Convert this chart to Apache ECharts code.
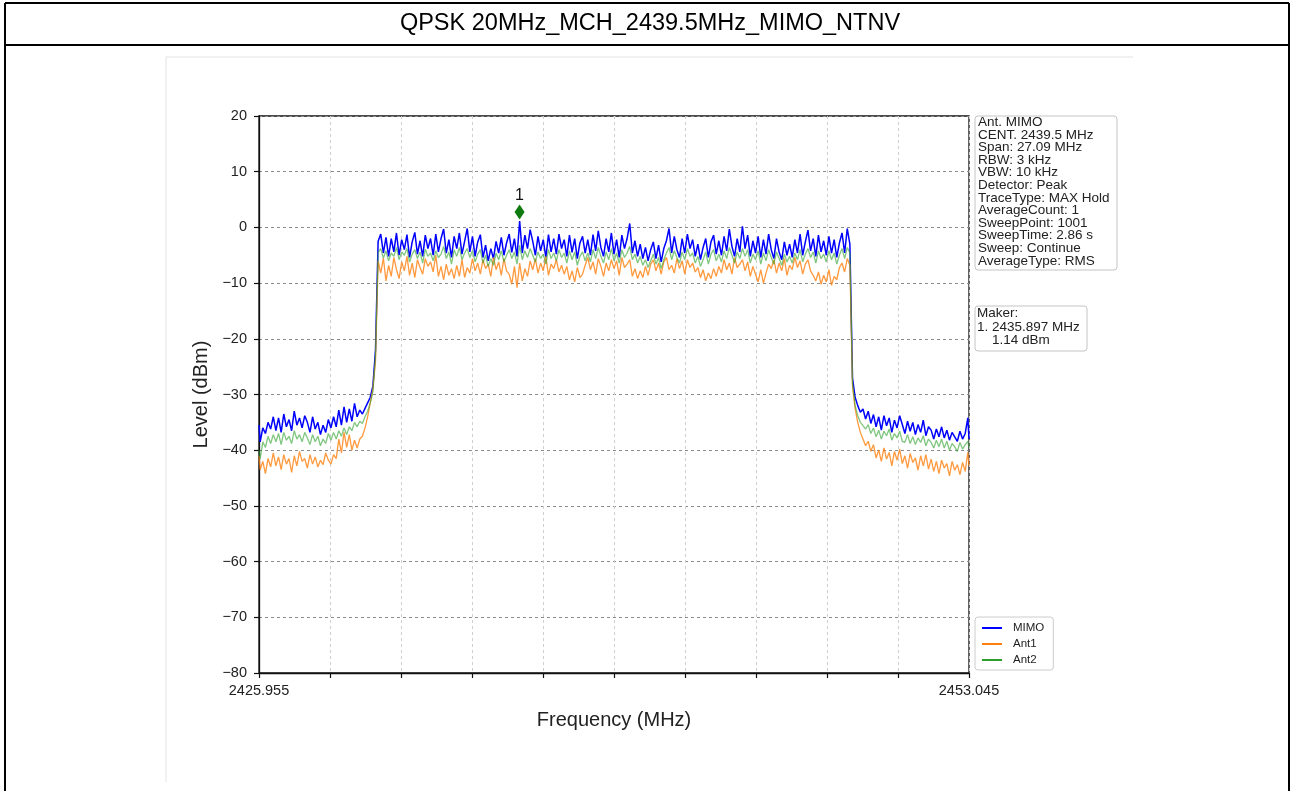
<!DOCTYPE html>
<html><head><meta charset="utf-8">
<script src="https://cdn.jsdelivr.net/npm/echarts@6/dist/echarts.min.js"></script>
<style>html,body{margin:0;padding:0;background:#fff;}#c{width:1292px;height:791px;}</style>
</head><body><div id="c"></div>
<script>
// ---- data ----
const freqs = [2425.955,
2426.0,2426.1,2426.2,2426.3,2426.4,2426.5,2426.6,2426.7,2426.8,2426.9,
2427.0,2427.1,2427.2,2427.3,2427.4,2427.5,2427.6,2427.7,2427.8,2427.9,
2428.0,2428.1,2428.2,2428.3,2428.4,2428.5,2428.6,2428.7,2428.8,2428.9,
2429.0,2429.1,2429.2,2429.3,2429.4,2429.5,2429.6,2429.7,2429.8,2429.9,
2430.0,2430.1,2430.2,2430.3,2430.4,2430.5,2430.6,2430.7,2430.8,2430.9,
2431.0,2431.1,2431.2,2431.3,2431.4,2431.5,2431.6,2431.7,2431.8,2431.9,
2432.0,2432.1,2432.2,2432.3,2432.4,2432.5,2432.6,2432.7,2432.8,2432.9,
2433.0,2433.1,2433.2,2433.3,2433.4,2433.5,2433.6,2433.7,2433.8,2433.9,
2434.0,2434.1,2434.2,2434.3,2434.4,2434.5,2434.6,2434.7,2434.8,2434.9,
2435.0,2435.1,2435.2,2435.3,2435.4,2435.5,2435.6,2435.7,2435.8,2435.9,
2436.0,2436.1,2436.2,2436.3,2436.4,2436.5,2436.6,2436.7,2436.8,2436.9,
2437.0,2437.1,2437.2,2437.3,2437.4,2437.5,2437.6,2437.7,2437.8,2437.9,
2438.0,2438.1,2438.2,2438.3,2438.4,2438.5,2438.6,2438.7,2438.8,2438.9,
2439.0,2439.1,2439.2,2439.3,2439.4,2439.5,2439.6,2439.7,2439.8,2439.9,
2440.0,2440.1,2440.2,2440.3,2440.4,2440.5,2440.6,2440.7,2440.8,2440.9,
2441.0,2441.1,2441.2,2441.3,2441.4,2441.5,2441.6,2441.7,2441.8,2441.9,
2442.0,2442.1,2442.2,2442.3,2442.4,2442.5,2442.6,2442.7,2442.8,2442.9,
2443.0,2443.1,2443.2,2443.3,2443.4,2443.5,2443.6,2443.7,2443.8,2443.9,
2444.0,2444.1,2444.2,2444.3,2444.4,2444.5,2444.6,2444.7,2444.8,2444.9,
2445.0,2445.1,2445.2,2445.3,2445.4,2445.5,2445.6,2445.7,2445.8,2445.9,
2446.0,2446.1,2446.2,2446.3,2446.4,2446.5,2446.6,2446.7,2446.8,2446.9,
2447.0,2447.1,2447.2,2447.3,2447.4,2447.5,2447.6,2447.7,2447.8,2447.9,
2448.0,2448.1,2448.2,2448.3,2448.4,2448.5,2448.6,2448.7,2448.8,2448.9,
2449.0,2449.1,2449.2,2449.3,2449.4,2449.5,2449.6,2449.7,2449.8,2449.9,
2450.0,2450.1,2450.2,2450.3,2450.4,2450.5,2450.6,2450.7,2450.8,2450.9,
2451.0,2451.1,2451.2,2451.3,2451.4,2451.5,2451.6,2451.7,2451.8,2451.9,
2452.0,2452.1,2452.2,2452.3,2452.4,2452.5,2452.6,2452.7,2452.8,2452.9,
2453.0,2453.045];

// MIMO trace (dBm)
const mimo = [
-35.5,-38.5,-36.0,-37.0,-35.0,-36.2,-34.0,-36.5,-34.2,-36.8,
-33.5,-35.8,-34.5,-36.5,-33.0,-35.5,-34.2,-36.0,-33.8,-35.0,
-36.8,-34.0,-36.2,-35.0,-37.2,-35.5,-36.8,-34.5,-36.0,-34.0,
-35.8,-32.8,-35.5,-32.2,-35.0,-32.6,-34.8,-31.6,-34.0,-32.8,
-33.5,-32.5,-31.5,-30.5,-28.5,-22.0,
-2.5,-1.2,-4.6,-1.8,-5.2,-2.0,-4.4,-1.0,-5.0,-2.2,
-4.0,-1.3,-5.4,-2.6,-0.9,-4.8,-2.4,-5.2,-1.4,-3.8,
-2.0,-5.0,-1.2,-4.4,-2.0,-0.3,-4.6,-2.2,-5.4,-1.6,
-3.8,-1.0,-4.8,-2.5,-0.2,-4.4,-1.6,-5.2,-2.6,-1.3,
-5.4,-3.2,-6.0,-3.8,-5.6,-2.5,-4.6,-1.8,-5.0,-2.8,
-1.2,-4.5,-2.0,-5.2,1.14,-4.6,-1.4,-3.8,-0.4,-2.5,
-5.0,-1.6,-4.2,-2.2,-5.4,-1.3,-4.4,-2.0,-4.8,-1.2,
-3.8,-2.2,-5.2,-1.4,-4.5,-2.0,-5.6,-2.8,-1.6,-4.6,
-2.2,-5.0,-1.3,-4.2,-0.6,-3.6,-5.2,-2.0,-4.4,-1.0,
-4.8,-2.2,-5.4,-1.4,-3.8,-2.0,0.7,-4.6,-2.4,-5.2,
-3.0,-5.6,-3.6,-6.0,-4.0,-2.6,-5.6,-3.2,-6.2,-3.8,
-2.4,-0.2,-4.6,-1.6,-4.0,-5.4,-2.0,-4.6,-1.2,-3.8,
-2.2,-5.2,-3.0,-5.8,-3.6,-2.0,-5.4,-2.6,-1.4,-4.8,
-2.4,-5.0,-1.6,-4.2,-0.3,-3.4,-5.2,-2.0,-4.4,0.2,
-3.8,-1.4,-5.2,-2.4,-4.6,-1.6,-5.4,-2.2,-4.8,-1.2,
-4.0,-5.6,-2.0,-4.4,-5.8,-2.6,-5.0,-3.0,-5.4,-2.2,
-4.6,-1.2,-5.0,-2.6,-0.5,-4.2,-2.0,-5.2,-1.4,-4.4,
-2.4,-5.0,-1.6,-4.6,-2.2,-5.4,-2.8,-1.0,-4.6,-0.2,
-3.0,
-27.0,-30.5,-32.0,-33.2,-32.6,-34.4,-33.0,-35.2,-33.6,-35.8,
-34.0,-36.4,-33.8,-35.6,-34.2,-36.8,-34.6,-36.0,-33.8,-35.4,
-37.0,-34.8,-36.6,-35.0,-37.2,-35.4,-36.8,-34.6,-37.4,-35.8,
-36.4,-38.0,-36.2,-37.6,-35.8,-37.8,-36.4,-38.2,-36.8,-37.6,
-38.4,-36.6,-38.0,-37.0,-34.2,-38.0];

// Ant1 trace (dBm)
const ant1 = [
-41.0,-43.5,-42.0,-44.2,-41.5,-43.0,-40.5,-42.8,-41.2,-43.5,
-40.8,-42.5,-41.5,-44.0,-41.0,-42.8,-40.2,-42.0,-41.5,-43.2,
-40.8,-42.5,-41.2,-43.0,-41.8,-42.6,-40.5,-41.8,-42.5,-40.8,
-41.5,-38.0,-40.5,-36.8,-39.5,-37.2,-40.0,-38.2,-39.6,-38.0,
-37.5,-36.0,-34.0,-31.5,-29.0,-24.0,
-6.0,-8.2,-5.5,-9.6,-6.8,-8.8,-5.4,-7.6,-9.2,-6.2,
-7.8,-5.2,-8.6,-6.4,-9.0,-5.8,-7.2,-8.4,-5.6,-7.0,
-6.2,-8.0,-5.0,-8.8,-7.0,-9.4,-6.6,-8.6,-7.4,-9.2,
-6.8,-8.8,-5.8,-9.0,-7.2,-8.2,-5.6,-7.8,-6.4,-8.4,
-5.8,-7.4,-6.6,-8.8,-5.4,-7.6,-6.2,-8.6,-5.6,-7.8,
-8.4,-10.2,-7.0,-10.8,-6.4,-9.6,-7.4,-8.8,-6.0,-7.6,
-5.6,-8.2,-6.4,-7.8,-5.2,-8.6,-6.6,-7.4,-5.8,-8.0,
-6.8,-8.4,-7.0,-9.4,-7.8,-9.8,-7.2,-9.0,-8.4,-6.8,
-5.4,-7.6,-6.2,-8.4,-5.6,-7.0,-8.8,-6.4,-7.8,-5.8,
-7.4,-6.0,-8.6,-5.4,-7.2,-6.6,-5.8,-8.8,-7.4,-9.2,
-7.8,-9.0,-7.0,-8.6,-6.6,-5.8,-7.8,-6.4,-8.4,-6.2,
-5.4,-7.6,-6.8,-8.2,-5.6,-7.4,-6.0,-8.4,-5.8,-7.2,
-6.4,-8.0,-7.2,-9.0,-7.6,-9.6,-8.2,-9.2,-7.4,-8.8,
-7.0,-8.2,-5.8,-7.6,-6.4,-8.4,-5.4,-7.2,-6.6,-5.8,
-7.8,-6.2,-8.8,-7.0,-8.4,-9.8,-7.6,-10.0,-8.2,-6.6,
-7.4,-5.8,-8.2,-6.4,-7.8,-5.6,-8.6,-6.8,-7.6,-5.4,
-7.2,-6.0,-8.4,-6.6,-5.8,-7.8,-8.6,-9.6,-8.0,-10.2,
-8.6,-9.8,-7.6,-10.4,-8.8,-9.4,-7.2,-6.4,-8.0,-5.6,
-6.8,
-28.5,-32.5,-35.0,-36.8,-38.0,-39.2,-38.4,-40.2,-39.0,-41.4,
-40.0,-42.0,-39.6,-41.6,-40.4,-42.8,-40.2,-41.8,-39.8,-42.4,
-41.0,-43.2,-40.6,-42.2,-41.4,-43.6,-41.0,-42.8,-40.8,-43.4,
-41.6,-43.8,-42.0,-44.2,-41.8,-43.2,-42.4,-44.6,-42.0,-43.6,
-42.6,-44.4,-42.2,-43.8,-40.4,-42.8];

// Ant2 trace (dBm)
const ant2 = [
-40.0,-41.5,-38.5,-39.5,-37.5,-38.8,-37.2,-38.5,-37.0,-39.0,
-36.8,-38.2,-37.5,-38.8,-36.5,-38.0,-37.2,-38.5,-36.8,-37.8,
-39.0,-37.2,-38.5,-37.5,-39.2,-38.0,-38.8,-37.0,-38.2,-36.8,
-38.0,-36.5,-37.5,-36.0,-37.2,-35.8,-36.5,-35.0,-35.8,-34.8,
-35.2,-34.0,-33.0,-31.5,-29.5,-23.0,
-4.5,-3.8,-5.5,-4.2,-6.0,-4.6,-5.2,-3.6,-5.8,-4.4,
-5.0,-3.8,-6.2,-4.8,-4.0,-5.6,-4.4,-6.4,-3.9,-5.2,
-4.6,-6.0,-4.2,-5.4,-4.8,-3.4,-5.6,-4.4,-6.6,-4.0,
-5.2,-3.6,-5.8,-4.6,-3.8,-5.4,-4.2,-6.2,-4.8,-4.0,
-6.4,-5.0,-7.0,-5.6,-6.8,-4.6,-5.8,-4.2,-6.2,-5.0,
-4.0,-5.6,-4.4,-6.6,-3.2,-5.8,-4.2,-5.4,-3.8,-5.0,
-6.2,-4.4,-5.6,-4.8,-6.6,-4.0,-5.6,-4.6,-6.0,-4.0,
-5.4,-4.6,-6.4,-4.2,-5.8,-4.4,-6.8,-5.2,-4.4,-6.0,
-4.6,-6.2,-4.0,-5.6,-3.6,-5.2,-6.4,-4.4,-5.8,-3.8,
-6.0,-4.6,-6.4,-4.0,-5.4,-4.6,-3.4,-5.8,-4.8,-6.4,
-5.2,-6.8,-5.8,-7.2,-6.0,-4.8,-6.6,-5.4,-7.4,-5.8,
-4.6,-3.6,-5.8,-4.2,-5.4,-6.4,-4.4,-5.8,-3.8,-5.2,
-4.6,-6.4,-5.2,-7.0,-5.8,-4.4,-6.6,-4.8,-4.0,-6.0,
-4.8,-6.2,-4.2,-5.6,-3.6,-5.0,-6.4,-4.4,-5.6,-3.8,
-5.2,-4.0,-6.4,-4.8,-5.8,-4.2,-6.6,-4.6,-6.0,-4.0,
-5.4,-6.6,-4.4,-5.6,-6.8,-4.8,-6.2,-5.2,-6.4,-4.6,
-5.8,-4.0,-6.2,-4.8,-3.8,-5.4,-4.4,-6.4,-4.2,-5.6,
-4.8,-6.2,-4.2,-5.8,-4.6,-6.6,-5.0,-3.8,-5.6,-3.6,
-4.6,
-28.0,-32.0,-33.8,-35.0,-35.6,-36.2,-35.4,-37.0,-36.0,-37.6,
-36.4,-38.0,-36.6,-37.4,-36.2,-38.2,-37.0,-37.8,-36.6,-38.4,
-38.6,-37.2,-38.8,-37.6,-39.0,-37.8,-38.6,-37.4,-39.2,-38.0,
-38.6,-39.6,-38.2,-39.4,-38.0,-39.6,-38.4,-40.0,-38.8,-39.4,
-40.2,-38.6,-39.8,-39.0,-38.4,-39.6];

const seriesNames = ['MIMO', 'Ant1', 'Ant2'];
const markerFreq = [2435.897];
const markerLevel = [1.14];
const markerNames = ['1'];
const xEndLabels = [2425.955, 2453.045];
const titleText = 'QPSK 20MHz_MCH_2439.5MHz_MIMO_NTNV';
const infoLines = ['Ant. MIMO','CENT. 2439.5 MHz','Span: 27.09 MHz','RBW: 3 kHz','VBW: 10 kHz',
  'Detector: Peak','TraceType: MAX Hold','AverageCount: 1','SweepPoint: 1001','SweepTime: 2.86 s',
  'Sweep: Continue','AverageType: RMS'];
const markerLines = ['Maker:', '1. 2435.897 MHz', '    1.14 dBm'];

// ---- chart ----
const FONT = '"Liberation Sans", Arial, sans-serif';
const chart = echarts.init(document.getElementById('c'), null, {renderer: 'canvas'});
const pair = arr => freqs.map((f, i) => [f, arr[i]]);
const xMin = xEndLabels[0], xMax = xEndLabels[1];

const option = {
  animation: false,
  backgroundColor: '#fff',
  textStyle: {fontFamily: FONT},
  grid: {left: 259, top: 116, width: 710, height: 557, show: true, borderColor: '#111', borderWidth: 1.3, backgroundColor: 'transparent'},
  legend: {
    data: seriesNames, orient: 'vertical', left: 975, top: 617,
    icon: 'rect', itemWidth: 20, itemHeight: 2, itemGap: 4,
    padding: [5, 9, 4, 7], borderColor: '#ccc', borderWidth: 1, borderRadius: 3,
    backgroundColor: '#fff',
    textStyle: {fontSize: 11.5, color: '#222', fontFamily: FONT, padding: [0, 0, 0, 6]}
  },
  xAxis: [
    {
      type: 'value', min: xMin, max: xMax, gridIndex: 0,
      axisLine: {show: true, onZero: false, lineStyle: {color: '#111', width: 1.3}},
      axisTick: {show: false},
      splitLine: {show: false},
      axisLabel: {customValues: xEndLabels, formatter: v => v.toFixed(3), fontSize: 14.5, color: '#222', margin: 10, fontFamily: FONT},
      name: 'Frequency (MHz)', nameLocation: 'middle', nameGap: 37,
      nameTextStyle: {fontSize: 20, color: '#222', fontFamily: FONT}
    },
    {
      type: 'value', min: 0, max: 10, interval: 1, gridIndex: 0, position: 'bottom',
      axisLine: {show: false, onZero: false},
      axisTick: {show: true, inside: false, length: 5, lineStyle: {color: '#111', width: 1.2}},
      axisLabel: {show: false},
      splitLine: {show: true, lineStyle: {color: '#cfcfcf', type: [3, 3], width: 1}}
    }
  ],
  yAxis: {
    type: 'value', min: -80, max: 20, interval: 10,
    axisLine: {show: true, onZero: false, lineStyle: {color: '#111', width: 1.3}},
    axisTick: {show: true, inside: false, length: 5, lineStyle: {color: '#111', width: 1.2}},
    axisLabel: {formatter: v => String(v).replace('-', '\u2212'), fontSize: 14.5, color: '#222', margin: 12, fontFamily: FONT},
    splitLine: {show: true, lineStyle: {color: '#8c8c8c', type: [3, 3], width: 1}},
    name: 'Level (dBm)', nameLocation: 'middle', nameGap: 46, nameRotate: 90,
    nameTextStyle: {fontSize: 20, color: '#222', fontFamily: FONT}
  },
  series: [
    {name: 'MIMO', type: 'line', xAxisIndex: 0, data: pair(mimo), showSymbol: false, symbol: 'none',
      lineStyle: {color: '#0000ff', width: 1.5}, itemStyle: {color: '#0000ff'}, z: 2},
    {name: 'Ant1', type: 'line', xAxisIndex: 0, data: pair(ant1), showSymbol: false, symbol: 'none',
      lineStyle: {color: '#ff7f0e', width: 1.3, opacity: 0.8}, itemStyle: {color: '#ff7f0e'}, z: 3},
    {name: 'Ant2', type: 'line', xAxisIndex: 0, data: pair(ant2), showSymbol: false, symbol: 'none',
      lineStyle: {color: '#2ca02c', width: 1.3, opacity: 0.6}, itemStyle: {color: '#2ca02c'}, z: 4},
    {name: 'marker', type: 'scatter', xAxisIndex: 0, z: 6,
      data: markerFreq.map((f, i) => ({value: [f, markerLevel[i]], name: markerNames[i]})),
      symbol: 'diamond', symbolSize: [10, 15], symbolOffset: [0, -9],
      itemStyle: {color: '#0f7a0f', opacity: 1},
      label: {show: true, position: 'top', distance: 1, formatter: p => p.name, fontSize: 16, color: '#111', fontFamily: FONT}
    }
  ],
  graphic: [
    // table borders
    {type: 'line', shape: {x1: 5, y1: 3, x2: 1289, y2: 3}, style: {stroke: '#000', lineWidth: 2}},
    {type: 'line', shape: {x1: 5, y1: 45, x2: 1289, y2: 45}, style: {stroke: '#000', lineWidth: 2}},
    {type: 'line', shape: {x1: 5, y1: 3, x2: 5, y2: 791}, style: {stroke: '#000', lineWidth: 2}},
    {type: 'line', shape: {x1: 1289, y1: 3, x2: 1289, y2: 791}, style: {stroke: '#000', lineWidth: 2}},
    {type: 'text', x: 650, y: 24, style: {text: titleText, font: '23.5px ' + FONT, fill: '#000', textAlign: 'center', textVerticalAlign: 'middle'}},
    // faint picture frame
    {type: 'line', shape: {x1: 166, y1: 57, x2: 1133, y2: 57}, style: {stroke: '#e2e2e2', lineWidth: 1}},
    {type: 'line', shape: {x1: 166, y1: 57, x2: 166, y2: 782}, style: {stroke: '#e2e2e2', lineWidth: 1}},
    // info box
    {type: 'rect', shape: {x: 975, y: 116, width: 142, height: 154, r: 3}, style: {fill: '#fff', stroke: '#c4c4c4', lineWidth: 1}, z: 10},
    {type: 'text', x: 978, y: 116, z: 11, style: {text: infoLines.join('\n'), font: '13.5px ' + FONT, fill: '#222', lineHeight: 12.6}},
    // marker box
    {type: 'rect', shape: {x: 975, y: 306, width: 112, height: 45, r: 3}, style: {fill: '#fff', stroke: '#c4c4c4', lineWidth: 1}, z: 10},
    {type: 'text', x: 977, y: 307, z: 11, style: {text: markerLines.join('\n'), font: '13.5px ' + FONT, fill: '#222', lineHeight: 13.5}}
  ]
};
chart.setOption(option);
</script>
</body></html>
